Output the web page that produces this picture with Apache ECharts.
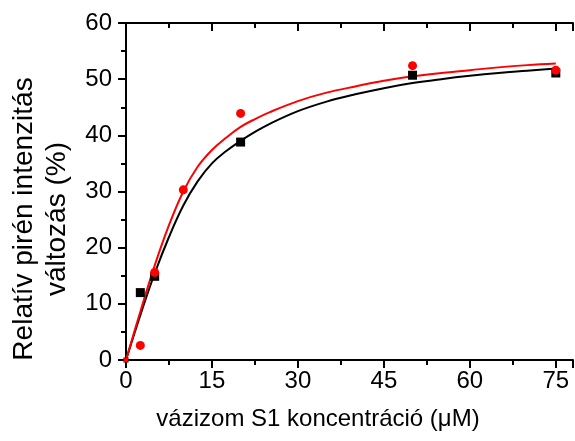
<!DOCTYPE html>
<html>
<head>
<meta charset="utf-8">
<script src="https://cdn.jsdelivr.net/npm/echarts@6/dist/echarts.min.js"></script>
<style>
html,body{margin:0;padding:0;background:#fff;}
#c{width:575px;height:441px;}
</style>
</head>
<body>
<div id="c"></div>
<script>
// Measured data points
const blackX = [0, 2.5, 5, 20, 50, 75];
const blackY = [0, 12.0, 14.9, 38.8, 50.7, 51.1];
const redX = [0, 2.5, 5, 10, 20, 50, 75];
const redY = [0, 2.6, 15.6, 30.3, 43.9, 52.4, 51.6];
// Fitted curves
const fitX = [0, 2.5, 5, 7.5, 10, 12.5, 15, 17.5, 20, 22.5, 25, 30, 35, 40, 45, 50, 55, 60, 65, 70, 75];
const blackFit = [0, 8.0, 15.4, 21.9, 27.5, 31.8, 35.0, 37.2, 39.0, 40.6, 42.0, 44.3, 46.0, 47.3, 48.4, 49.3, 50.0, 50.6, 51.1, 51.5, 51.9];
const redFit = [0, 8.6, 16.8, 24.0, 30.0, 34.4, 37.4, 39.6, 41.5, 42.9, 44.1, 46.1, 47.6, 48.7, 49.7, 50.5, 51.1, 51.6, 52.1, 52.5, 52.8];
const xTicks = [0, 15, 30, 45, 60, 75];
const yTicks = [0, 10, 20, 30, 40, 50, 60];
const xTitle = 'vázizom S1 koncentráció (μM)';
const yTitle = 'Relatív pirén intenzitás\nváltozás (%)';

const FONT = '"Liberation Sans", Arial, sans-serif';
const zip = (xs, ys) => xs.map((x, i) => [x, ys[i]]);
const symSize = (v) => (v[0] === 0 && v[1] === 0 ? 5 : 9);

const chart = echarts.init(document.getElementById('c'), null, {renderer: 'canvas'});
const axisLine = {show: true, lineStyle: {color: '#000', width: 2}};
chart.setOption({
  animation: false,
  backgroundColor: '#fff',
  grid: {left: 126, right: 2, top: 23, bottom: 81},
  xAxis: [{
    type: 'value', position: 'bottom', min: 0, max: 78, interval: 15,
    axisLine: axisLine,
    axisTick: {show: true, inside: false, length: 8, lineStyle: {color: '#000', width: 2}},
    minorTick: {show: true, splitNumber: 2, length: 5, lineStyle: {color: '#000', width: 2}},
    splitLine: {show: false},
    axisLabel: {
      show: true, margin: 9, color: '#000', fontSize: 24, fontFamily: FONT,
      showMaxLabel: false,
      formatter: (v) => (xTicks.indexOf(v) >= 0 ? String(v) : '')
    }
  }, {
    type: 'value', position: 'top', min: 0, max: 78, interval: 15,
    axisLine: axisLine,
    axisTick: {show: true, inside: true, length: 8, lineStyle: {color: '#000', width: 2}},
    minorTick: {show: true, splitNumber: 2, length: 5, lineStyle: {color: '#000', width: 2}},
    splitLine: {show: false},
    axisLabel: {show: false}
  }],
  yAxis: [{
    type: 'value', min: 0, max: 60, interval: 10,
    axisLine: axisLine,
    axisTick: {show: true, inside: false, length: 8, lineStyle: {color: '#000', width: 2}},
    minorTick: {show: true, splitNumber: 2, length: 5, lineStyle: {color: '#000', width: 2}},
    splitLine: {show: false},
    axisLabel: {
      show: true, margin: 14, color: '#000', fontSize: 24, fontFamily: FONT,
      formatter: (v) => (yTicks.indexOf(v) >= 0 ? String(v) : '')
    }
  }],
  graphic: [{
    type: 'text', x: 318, y: 419,
    style: {text: xTitle, fontSize: 24, fontFamily: FONT, fill: '#000',
      align: 'center', verticalAlign: 'middle', textAlign: 'center', textVerticalAlign: 'middle'}
  }, {
    type: 'text', x: 41, y: 219, rotation: Math.PI / 2,
    style: {text: yTitle, fontSize: 28, fontFamily: FONT, fill: '#000', lineHeight: 33,
      align: 'center', verticalAlign: 'middle', textAlign: 'center', textVerticalAlign: 'middle'}
  }],
  series: [{
    type: 'line', data: zip(fitX, blackFit), smooth: 0.4, showSymbol: false, symbol: 'none',
    lineStyle: {color: '#000', width: 2}, z: 2
  }, {
    type: 'line', data: zip(fitX, redFit), smooth: 0.4, showSymbol: false, symbol: 'none',
    lineStyle: {color: '#ff0000', width: 2}, z: 3
  }, {
    type: 'scatter', data: zip(blackX, blackY), symbol: 'rect', symbolSize: symSize,
    itemStyle: {color: '#000', opacity: 1}, z: 4
  }, {
    type: 'scatter', data: zip(redX, redY), symbol: 'circle', symbolSize: symSize,
    itemStyle: {color: '#ff0000', opacity: 1}, z: 5
  }]
});
</script>
</body>
</html>
